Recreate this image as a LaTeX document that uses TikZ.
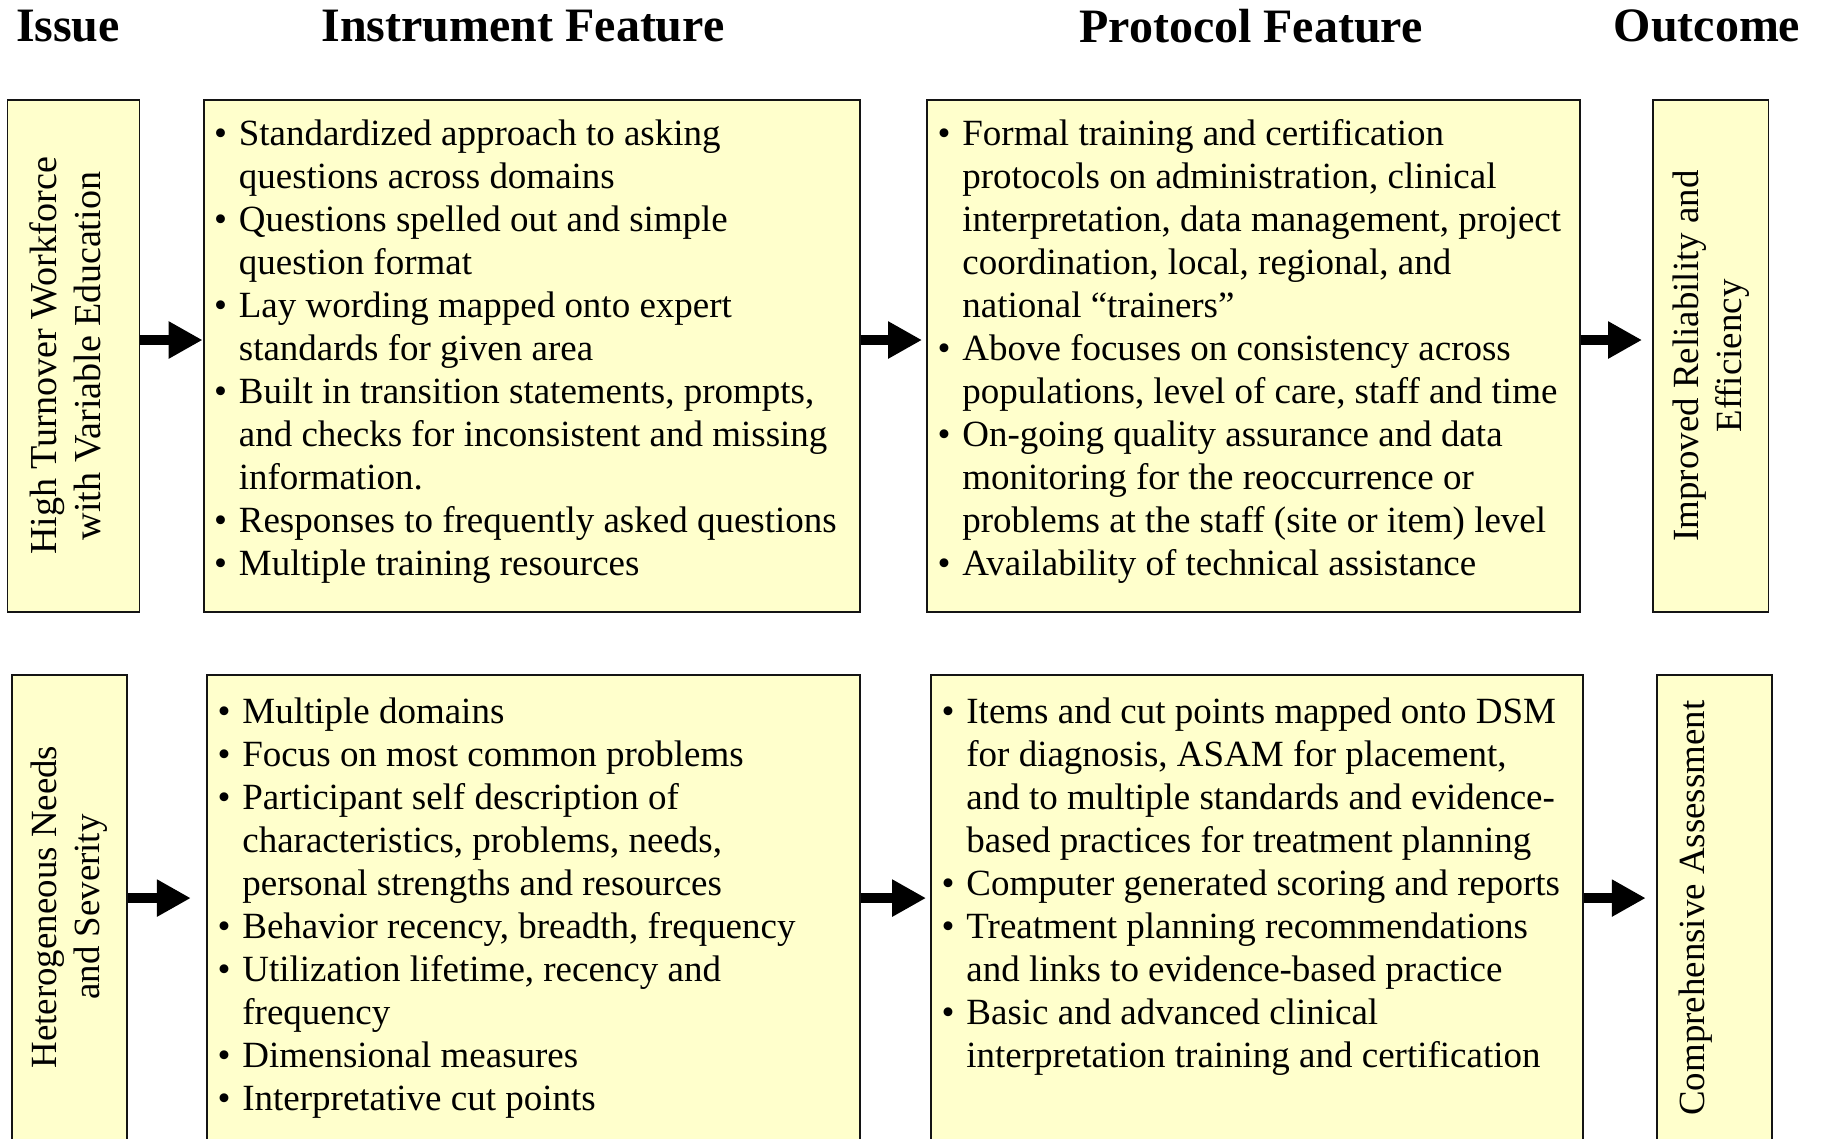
\documentclass[tikz,border=0pt]{standalone}
\usepackage{fontspec}
\setmainfont{Liberation Serif}
\usepackage{tikz}
\usetikzlibrary{positioning, arrows.meta}
\definecolor{amarillo}{RGB}{255, 255, 204}
\definecolor{borde}{RGB}{20, 20, 20}
\tikzset{
    caja/.style={draw=borde, fill=amarillo, line width=1.1pt, rectangle, inner sep=0pt},
    tag/.style={rotate=90, align=center, inner sep=0pt, font=\fontsize{21pt}{24.5pt}\selectfont},
    lista/.style={anchor=north west, inner sep=0pt, font=\fontsize{21.05pt}{24.47pt}\selectfont},
    head/.style={inner sep=0pt, font=\fontsize{27.3pt}{30pt}\selectfont\bfseries},
    flecha/.style={-{Triangle[length=19.3pt, width=19.9pt]}, line width=5.7pt, black},
}

\begin{document}
\begin{tikzpicture}[x=0.02cm, y=-0.02cm]
        \clip (0,0) rectangle (1823,1139);

        \node[head] (hIssue) at (68,26) {Issue};
        \node[head] (hInst) at (523,26) {Instrument Feature};
        \node[head] (hProt) at (1251,26) {Protocol Feature};
        \node[head] (hOut) at (1707,26) {Outcome};

        % first row
        \node[caja, minimum width=75.1pt, minimum height=291.4pt] (issueA) at (73.5,356) {};
        \node[caja, minimum width=373.6pt, minimum height=291.4pt] (instA) at (531.75,356) {};
        \node[caja, minimum width=371.6pt, minimum height=291.4pt] (protA) at (1253.5,356) {};
        \node[caja, minimum width=65.7pt, minimum height=291.4pt] (outA) at (1710.75,356) {};

        % second row
        \node[caja, minimum width=65.6pt, minimum height=281.7pt] (issueB) at (69.35,922.5) {};
        \node[caja, minimum width=371.6pt, minimum height=281.7pt] (instB) at (533.5,922.5) {};
        \node[caja, minimum width=371.3pt, minimum height=281.7pt] (protB) at (1257.25,922.5) {};
        \node[caja, minimum width=65.4pt, minimum height=281.7pt] (outB) at (1714.5,922.5) {};

        \node[tag, font=\fontsize{21.7pt}{24.8pt}\selectfont] (issueAtxt) at ([xshift=-4.5pt]issueA.center) {High Turnover Workforce\\with Variable Education};
        \node[tag] (outAtxt) at (outA.center) {Improved Reliability and\\Efficiency};
        \node[tag] (issueBtxt) at ([yshift=8.8pt]issueB.center) {Heterogeneous Needs\\and Severity};
        \node[tag] (outBtxt) at ([xshift=-11pt, yshift=8.2pt]outB.center) {Comprehensive Assessment};

        \node[lista] (instAtxt) at ([xshift=6.3pt, yshift=-9.3pt]instA.north west) {%
            \begin{tabular}{@{}l@{\hspace{6.8pt}}l@{}}
            \textbullet & Standardized approach to asking\\
                        & questions across domains\\
            \textbullet & Questions spelled out and simple\\
                        & question format\\
            \textbullet & Lay wording mapped onto expert\\
                        & standards for given area\\
            \textbullet & Built in transition statements, prompts,\\
                        & and checks for inconsistent and missing\\
                        & information.\\
            \textbullet & Responses to frequently asked questions\\
            \textbullet & Multiple training resources
            \end{tabular}};

        \node[lista] (protAtxt) at ([xshift=6.3pt, yshift=-9.3pt]protA.north west) {%
            \begin{tabular}{@{}l@{\hspace{6.8pt}}l@{}}
            \textbullet & Formal training and certification\\
                        & protocols on administration, clinical\\
                        & interpretation, data management, project\\
                        & coordination, local, regional, and\\
                        & national “trainers”\\
            \textbullet & Above focuses on consistency across\\
                        & populations, level of care, staff and time\\
            \textbullet & On-going quality assurance and data\\
                        & monitoring for the reoccurrence or\\
                        & problems at the staff (site or item) level\\
            \textbullet & Availability of technical assistance
            \end{tabular}};

        \node[lista] (instBtxt) at ([xshift=6.3pt, yshift=-10.8pt]instB.north west) {%
            \begin{tabular}{@{}l@{\hspace{6.8pt}}l@{}}
            \textbullet & Multiple domains\\
            \textbullet & Focus on most common problems\\
            \textbullet & Participant self description of\\
                        & characteristics, problems, needs,\\
                        & personal strengths and resources\\
            \textbullet & Behavior recency, breadth, frequency\\
            \textbullet & Utilization lifetime, recency and\\
                        & frequency\\
            \textbullet & Dimensional measures\\
            \textbullet & Interpretative cut points
            \end{tabular}};

        \node[lista] (protBtxt) at ([xshift=6.3pt, yshift=-10.8pt]protB.north west) {%
            \begin{tabular}{@{}l@{\hspace{6.8pt}}l@{}}
            \textbullet & Items and cut points mapped onto DSM\\
                        & for diagnosis, ASAM for placement,\\
                        & and to multiple standards and evidence-\\
                        & based practices for treatment planning\\
            \textbullet & Computer generated scoring and reports\\
            \textbullet & Treatment planning recommendations\\
                        & and links to evidence-based practice\\
            \textbullet & Basic and advanced clinical\\
                        & interpretation training and certification
            \end{tabular}};

        \draw[flecha] ([yshift=9.1pt]issueA.east) -- ([yshift=9.1pt]instA.west);
        \draw[flecha, shorten >=2.3pt] ([yshift=9.1pt]instA.east) -- ([yshift=9.1pt]protA.west);
        \draw[flecha, shorten >=5.7pt] ([yshift=9.1pt]protA.east) -- ([yshift=9.1pt]outA.west);
        \draw[flecha, shorten >=8.7pt] ([yshift=13.9pt]issueB.east) -- ([yshift=13.9pt]instB.west);
        \draw[flecha, shorten >=2.3pt] ([yshift=13.9pt]instB.east) -- ([yshift=13.9pt]protB.west);
        \draw[flecha, shorten >=5.9pt] ([yshift=13.9pt]protB.east) -- ([yshift=13.9pt]outB.west);
    \end{tikzpicture}
\end{document}
